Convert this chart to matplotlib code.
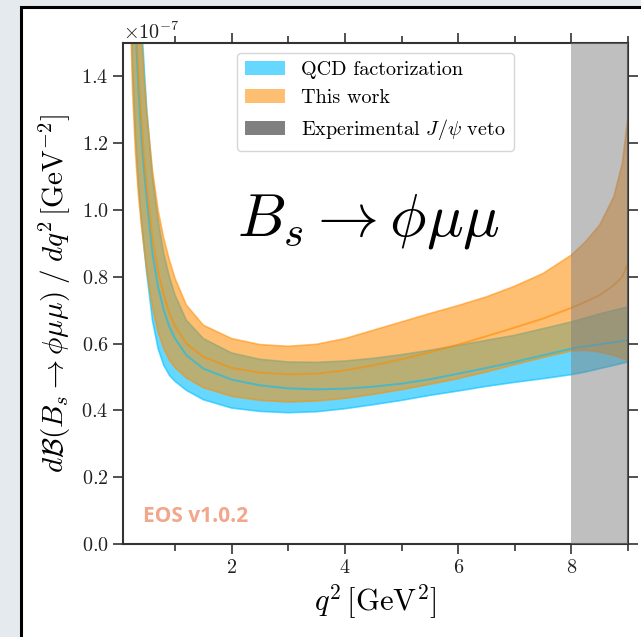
import numpy as np
import matplotlib
matplotlib.use("Agg")
import matplotlib.pyplot as plt
from matplotlib.patches import Patch, Rectangle

plt.rcParams["font.family"] = "serif"
plt.rcParams["font.serif"] = ["cmr10"]
plt.rcParams["mathtext.fontset"] = "cm"
plt.rcParams["axes.formatter.use_mathtext"] = True

# q^2 grid in GeV^2, branching ratio density in units of 1e-7 GeV^-2
q2 = [0.1, 0.2, 0.25, 0.3, 0.35, 0.4, 0.45, 0.5, 0.6, 0.7, 0.8, 0.9, 1.0, 1.2, 1.5,
      2.0, 2.5, 3.0, 3.5, 4.0, 4.5, 5.0, 5.5, 6.0, 6.5, 7.0, 7.5, 8.0, 8.25, 8.5,
      8.75, 8.9, 9.0]

qcd_lo = [3.6, 1.75, 1.42, 1.22, 1.08, 0.98, 0.89, 0.81, 0.67, 0.585, 0.535, 0.505,
          0.487, 0.46, 0.432, 0.407, 0.397, 0.393, 0.396, 0.405, 0.417, 0.43, 0.445,
          0.458, 0.472, 0.484, 0.495, 0.507, 0.515, 0.525, 0.535, 0.541, 0.545]
qcd_mid = [4.5, 2.2, 1.8, 1.55, 1.37, 1.23, 1.12, 1.03, 0.87, 0.77, 0.70, 0.65,
           0.615, 0.565, 0.525, 0.492, 0.475, 0.466, 0.463, 0.465, 0.471, 0.48, 0.493,
           0.51, 0.527, 0.545, 0.565, 0.585, 0.592, 0.598, 0.604, 0.608, 0.61]
qcd_hi = [5.5, 2.7, 2.2, 1.9, 1.7, 1.58, 1.44, 1.3, 1.1, 0.97, 0.87, 0.80,
          0.745, 0.67, 0.615, 0.572, 0.553, 0.545, 0.544, 0.548, 0.556, 0.567, 0.58,
          0.595, 0.61, 0.625, 0.645, 0.665, 0.677, 0.689, 0.70, 0.706, 0.71]

tw_lo = [3.4, 1.65, 1.35, 1.17, 1.05, 0.96, 0.89, 0.82, 0.71, 0.635, 0.585, 0.55,
         0.528, 0.497, 0.468, 0.442, 0.43, 0.425, 0.428, 0.436, 0.448, 0.462, 0.478,
         0.495, 0.515, 0.537, 0.558, 0.578, 0.58, 0.575, 0.565, 0.556, 0.55]
tw_mid = [4.6, 2.25, 1.85, 1.6, 1.42, 1.28, 1.16, 1.07, 0.915, 0.815, 0.745, 0.69,
          0.652, 0.60, 0.56, 0.527, 0.513, 0.508, 0.51, 0.52, 0.535, 0.553, 0.574,
          0.597, 0.622, 0.648, 0.675, 0.707, 0.725, 0.745, 0.775, 0.80, 0.84]
tw_hi = [5.8, 2.8, 2.3, 1.95, 1.72, 1.55, 1.40, 1.29, 1.12, 1.0, 0.915, 0.85,
         0.795, 0.715, 0.655, 0.615, 0.597, 0.592, 0.598, 0.615, 0.64, 0.665, 0.69,
         0.714, 0.74, 0.772, 0.81, 0.865, 0.905, 0.955, 1.04, 1.14, 1.28]

veto = (8.0, 9.0)
scale = 1e-7

q2 = np.array(q2)
blue = "deepskyblue"
orange = "darkorange"

fig = plt.figure(figsize=(6.41, 6.37), dpi=100, facecolor="#e5eaef")
# white panel with black frame (screenshot border)
fig.add_artist(Rectangle((21 / 641, -0.1), 1.2, 1 - 7 / 637 + 0.1,
                         transform=fig.transFigure, facecolor="white",
                         edgecolor="black", lw=2.2, zorder=-10))

ax = fig.add_axes([123 / 641, 93 / 637, 505 / 641, 501 / 637])
ax.set_facecolor("none")

ax.fill_between(q2, np.array(qcd_lo) * scale, np.array(qcd_hi) * scale,
                color=blue, alpha=0.6, lw=1.2)
ax.plot(q2, np.array(qcd_mid) * scale, color=blue, alpha=0.6, lw=1.4)
ax.fill_between(q2, np.array(tw_lo) * scale, np.array(tw_hi) * scale,
                color=orange, alpha=0.55, lw=1.2)
ax.plot(q2, np.array(tw_mid) * scale, color=orange, alpha=0.6, lw=1.4)
ax.axvspan(veto[0], veto[1], color="gray", alpha=0.5, lw=0, zorder=5)

ax.set_xlim(0.08, 9.0)
ax.set_ylim(0, 1.5e-7)
ax.set_xticks([2, 4, 6, 8])
ax.set_xticks([1, 3, 5, 7, 9], minor=True)
ax.set_yticks(np.arange(0, 1.41, 0.2) * scale)
ax.tick_params(which="both", direction="out", top=True, right=True,
               labelsize=14.5, colors="#333333", labelcolor="#222222")
ax.tick_params(which="major", length=7, width=1.2)
ax.tick_params(which="minor", length=5, width=1.2)
ax.yaxis.get_offset_text().set_fontsize(14.5)
for s in ax.spines.values():
    s.set_linewidth(1.5)
    s.set_color("#333333")

ax.set_xlabel(r"$q^2\,[\mathrm{GeV}^2]$", fontsize=22)
ax.set_ylabel(r"$d\mathcal{B}(B_s\to\phi\mu\mu)\;/\;dq^2\,[\mathrm{GeV}^{-2}]$",
              fontsize=21, labelpad=6)

ax.text(0.487, 0.643, r"$B_s\to\phi\mu\mu$", transform=ax.transAxes,
        ha="center", va="center", fontsize=44)
ax.text(0.04, 0.044, "EOS v1.0.2", transform=ax.transAxes, family="Open Sans",
        fontweight="bold", fontsize=15, color="#f2a68c")

handles = [Patch(color=blue, alpha=0.6, lw=0),
           Patch(color=orange, alpha=0.55, lw=0),
           Patch(color="gray", lw=0)]
labels = ["QCD factorization", "This work", r"Experimental $J/\psi$ veto"]
ax.legend(handles, labels, loc="upper center", fontsize=14.5, framealpha=0.8,
          edgecolor="#cccccc")

fig.savefig("out.png", dpi=100, facecolor=fig.get_facecolor())
